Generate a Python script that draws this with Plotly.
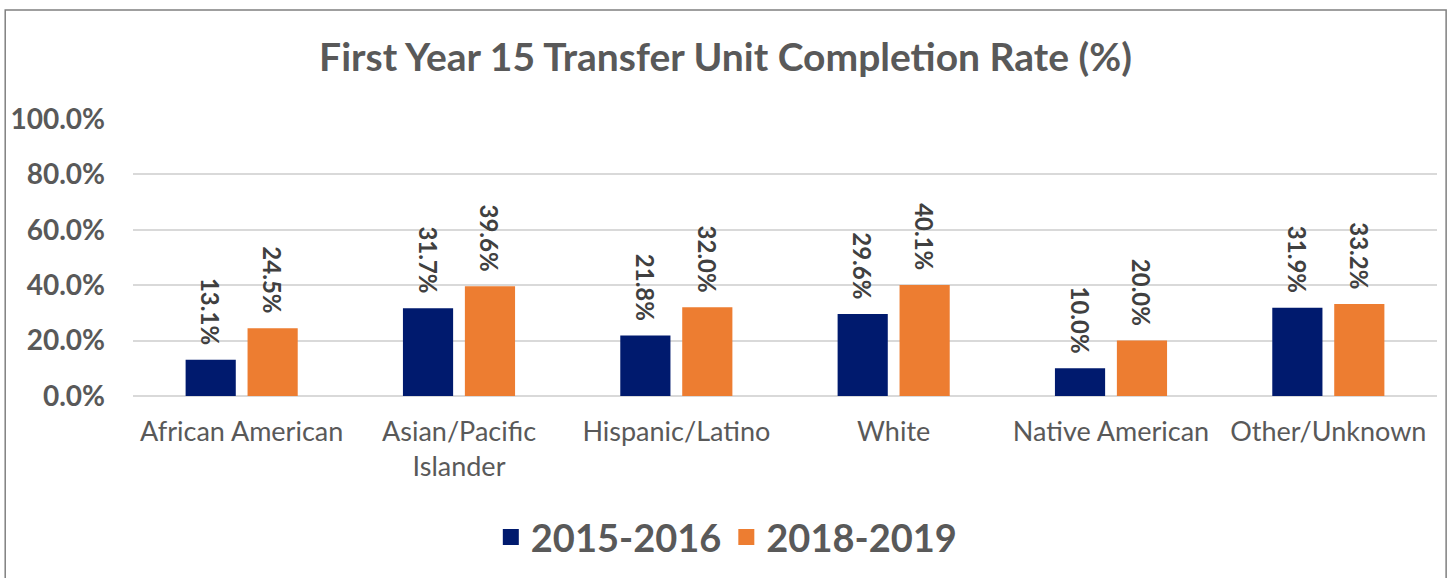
import plotly.graph_objects as go

categories = ["African American", "Asian/Pacific<br>Islander", "Hispanic/Latino", "White", "Native American", "Other/Unknown"]
series_names = ["2015-2016", "2018-2019"]
values_2015 = [13.1, 31.7, 21.8, 29.6, 10.0, 31.9]
values_2018 = [24.5, 39.6, 32.0, 40.1, 20.0, 33.2]
y_ticks = [0, 20, 40, 60, 80, 100]
title_text = "First Year 15 Transfer Unit Completion Rate (%)"

colors = ["#001A6E", "#ED7D31"]
FONT = "Lato"
GREY = "#595959"
LABEL_GREY = "#404040"

fig = go.Figure()
for name, vals, col in zip(series_names, [values_2015, values_2018], colors):
    fig.add_trace(go.Bar(
        x=categories, y=vals, name=name, showlegend=False,
        marker=dict(color=col, line=dict(width=0)),
        texttemplate="%{y:.1f}%\u00a0\u00a0", textposition="outside", textangle=90,
        constraintext="none",
        textfont=dict(family=FONT, size=24, color=LABEL_GREY, weight="bold"),
        cliponaxis=False,
    ))
# legend entries (square swatches)
for name, col in zip(series_names, colors):
    fig.add_trace(go.Scatter(
        x=[None], y=[None], mode="markers", name=name,
        marker=dict(symbol="square", size=24, color=col),
    ))

fig.update_layout(
    width=1451, height=578,
    paper_bgcolor="white", plot_bgcolor="white",
    margin=dict(l=133, r=14, t=119, b=182, autoexpand=False),
    barmode="group", bargap=0.43, bargroupgap=0.19,
    title=dict(text=title_text, x=0.5, xref="container", xanchor="center", y=0.9, yref="container", yanchor="middle",
               font=dict(family=FONT, size=39, color=GREY, weight="bold")),
    font=dict(family=FONT, color=GREY),
    legend=dict(orientation="h", x=0.455, xanchor="center", y=-0.51, yanchor="middle",
                font=dict(family=FONT, size=38, color=GREY, weight="bold"), traceorder="normal",
                itemsizing="trace", itemwidth=30),
    showlegend=True,
)
fig.update_yaxes(range=[0, 100], tickvals=y_ticks, ticktext=[f"{v:.1f}%" for v in y_ticks],
                 showgrid=True, gridcolor="#D9D9D9", gridwidth=1.5, zeroline=True, zerolinecolor="#D9D9D9",
                 zerolinewidth=1.5, showline=False, ticks="", ticklabelstandoff=27,
                 tickfont=dict(family=FONT, size=28, color=GREY, weight="bold"))
fig.update_xaxes(showgrid=False, showline=False, ticks="", ticklabelstandoff=17,
                 tickfont=dict(family=FONT, size=27, color=GREY))

# outer chart border
fig.add_shape(type="rect", xref="paper", yref="paper", x0=-0.098, x1=1.007, y0=-0.8, y1=1.3935,
              line=dict(color="#808080", width=1.5), fillcolor="rgba(0,0,0,0)", layer="below")

fig.write_html("out.html", config={"displayModeBar": False},
               post_script="document.body.style.margin='0';document.body.style.overflow='hidden';")
